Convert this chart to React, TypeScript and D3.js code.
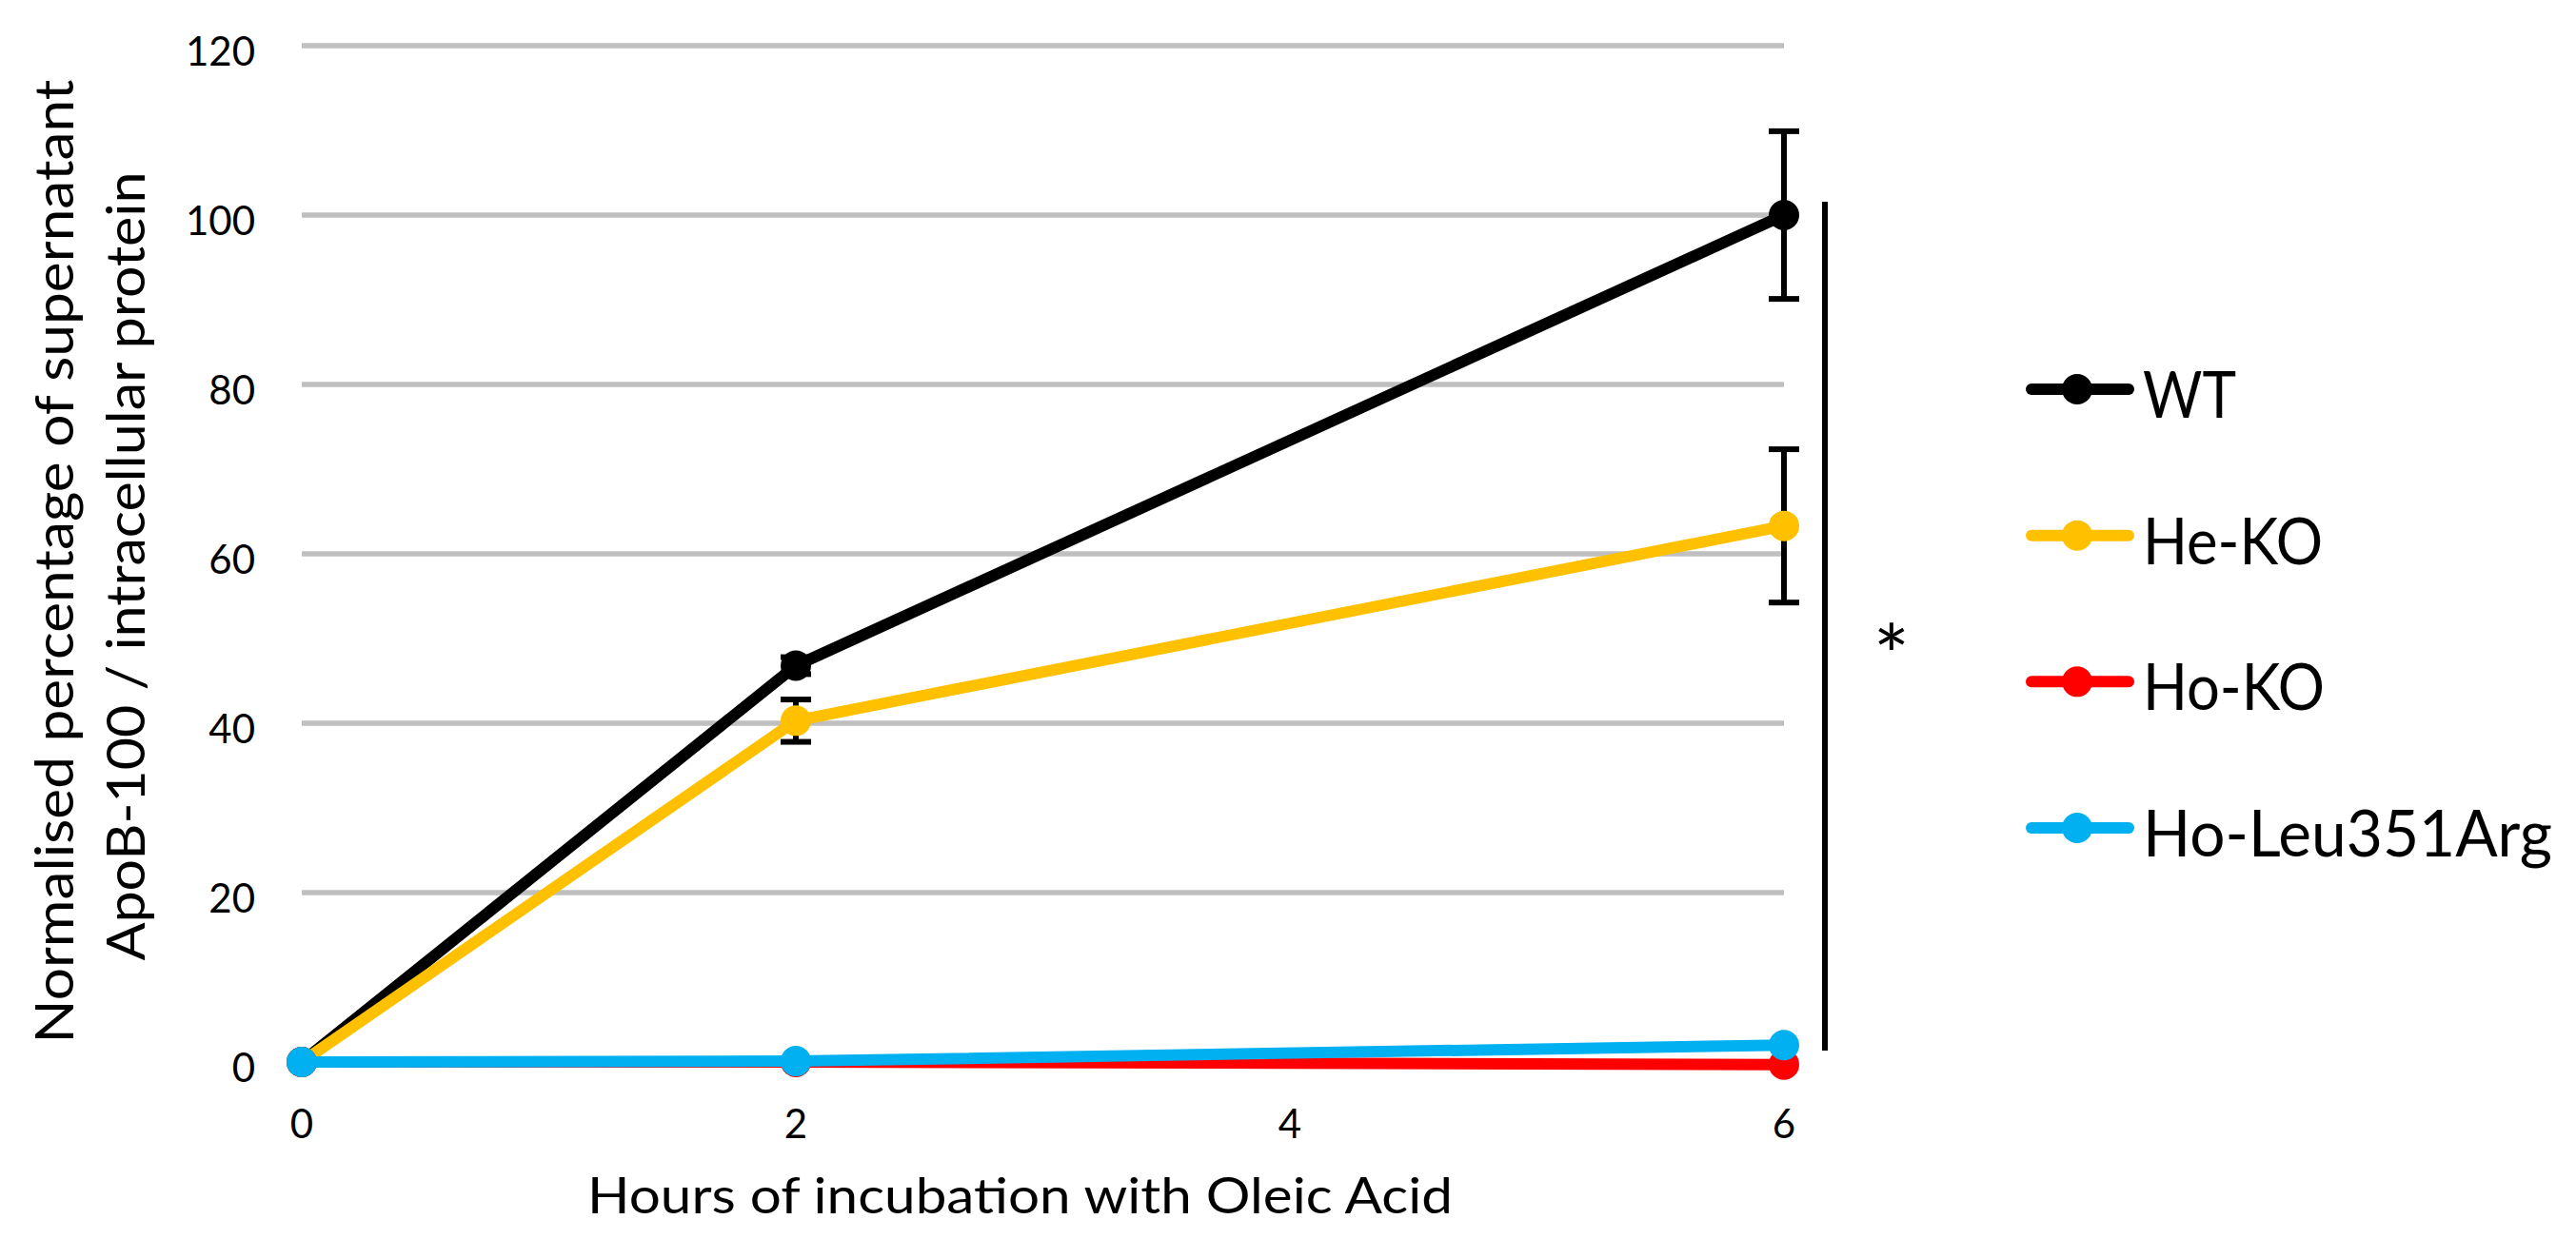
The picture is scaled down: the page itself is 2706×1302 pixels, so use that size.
import React from "react";
import * as d3 from "d3";

const hours = [0, 2, 6];
const xTicks = [0, 2, 4, 6];
const yTicks = [0, 20, 40, 60, 80, 100, 120];

const seriesNames = ["WT", "He-KO", "Ho-KO", "Ho-Leu351Arg"];
const seriesColors = ["#000000", "#FFC000", "#FF0000", "#00B0F0"];
const wt = [0, 46.8, 100];
const wtErr = [0, 1.0, 9.9];
const heKO = [0, 40.3, 63.3];
const heKOErr = [0, 2.5, 9.05];
const hoKO = [0, 0, -0.3];
const hoKOErr = [0, 0, 0];
const hoLeu = [0, 0.1, 2.0];
const hoLeuErr = [0, 0, 0];

const legendTextWidths = [98, 189, 191, 430];

const yTitle1 = "Normalised percentage of supernatant";
const yTitle2 = "ApoB-100 / intracellular protein";
const xTitle = "Hours of incubation with Oleic Acid";

const FONT = "Lato, 'Open Sans', sans-serif";

export default function App() {
  const W = 2706;
  const H = 1302;
  const x = d3.scaleLinear().domain([0, 6]).range([317, 1874]);
  const y = d3.scaleLinear().domain([0, 120]).range([1116, 48]);

  const values = [wt, heKO, hoKO, hoLeu];
  const errs = [wtErr, heKOErr, hoKOErr, hoLeuErr];

  const line = d3
    .line<number>()
    .x((_, i) => x(hours[i]))
    .y((d) => y(d));

  const legendY = d3.scaleLinear().domain([0, 3]).range([409, 870]);

  return (
    <svg
      width={W}
      height={H}
      style={{ position: "absolute", left: 0, top: 0, background: "#fff" }}
      fontFamily={FONT}
    >
      <rect x={0} y={0} width={W} height={H} fill="#fff" />
      {yTicks.map((t) => (
        <line
          key={"g" + t}
          x1={x(0)}
          x2={x(6)}
          y1={y(t)}
          y2={y(t)}
          stroke="#BFBFBF"
          strokeWidth={5.5}
        />
      ))}
      {yTicks.map((t) => (
        <text key={"yt" + t} x={268} y={y(t) + 21} textAnchor="end" fontSize={42} fill="#000">
          {t}
        </text>
      ))}
      {xTicks.map((t) => (
        <text key={"xt" + t} x={x(t)} y={1196} textAnchor="middle" fontSize={42} fill="#000">
          {t}
        </text>
      ))}
      {values.map((vals, si) => (
        <g key={"s" + si}>
          <path
            d={line(vals) || ""}
            fill="none"
            stroke={seriesColors[si]}
            strokeWidth={12}
            strokeLinejoin="round"
          />
          {vals.map((v, i) =>
            errs[si][i] > 0 ? (
              <g key={"e" + i} stroke="#000" strokeWidth={6}>
                <line x1={x(hours[i])} x2={x(hours[i])} y1={y(v + errs[si][i])} y2={y(v - errs[si][i])} />
                <line x1={x(hours[i]) - 16} x2={x(hours[i]) + 16} y1={y(v + errs[si][i])} y2={y(v + errs[si][i])} />
                <line x1={x(hours[i]) - 16} x2={x(hours[i]) + 16} y1={y(v - errs[si][i])} y2={y(v - errs[si][i])} />
              </g>
            ) : null
          )}
          {vals.map((v, i) => (
            <circle key={"m" + i} cx={x(hours[i])} cy={y(v)} r={16} fill={seriesColors[si]} />
          ))}
        </g>
      ))}
      <line x1={1917} x2={1917} y1={212} y2={1104} stroke="#000" strokeWidth={6} />
      <text x={1987} y={722} textAnchor="middle" fontSize={90} fill="#000">
        *
      </text>
      <text
        transform={`translate(77,590) rotate(-90)`}
        textAnchor="middle"
        fontSize={56}
        textLength={1013}
        lengthAdjust="spacingAndGlyphs"
        fill="#000"
      >
        {yTitle1}
      </text>
      <text
        transform={`translate(152,595) rotate(-90)`}
        textAnchor="middle"
        fontSize={56}
        textLength={829}
        lengthAdjust="spacingAndGlyphs"
        fill="#000"
      >
        {yTitle2}
      </text>
      <text
        x={617}
        y={1275}
        fontSize={52}
        textLength={909}
        lengthAdjust="spacingAndGlyphs"
        fill="#000"
      >
        {xTitle}
      </text>
      {seriesNames.map((name, i) => (
        <g key={"l" + i}>
          <line
            x1={2134}
            x2={2236}
            y1={legendY(i)}
            y2={legendY(i)}
            stroke={seriesColors[i]}
            strokeWidth={12}
            strokeLinecap="round"
          />
          <circle cx={2182} cy={legendY(i)} r={16} fill={seriesColors[i]} />
          <text
            x={2251}
            y={legendY(i) + 30}
            fontSize={67}
            textLength={legendTextWidths[i]}
            lengthAdjust="spacingAndGlyphs"
            fill="#000"
          >
            {name}
          </text>
        </g>
      ))}
    </svg>
  );
}
